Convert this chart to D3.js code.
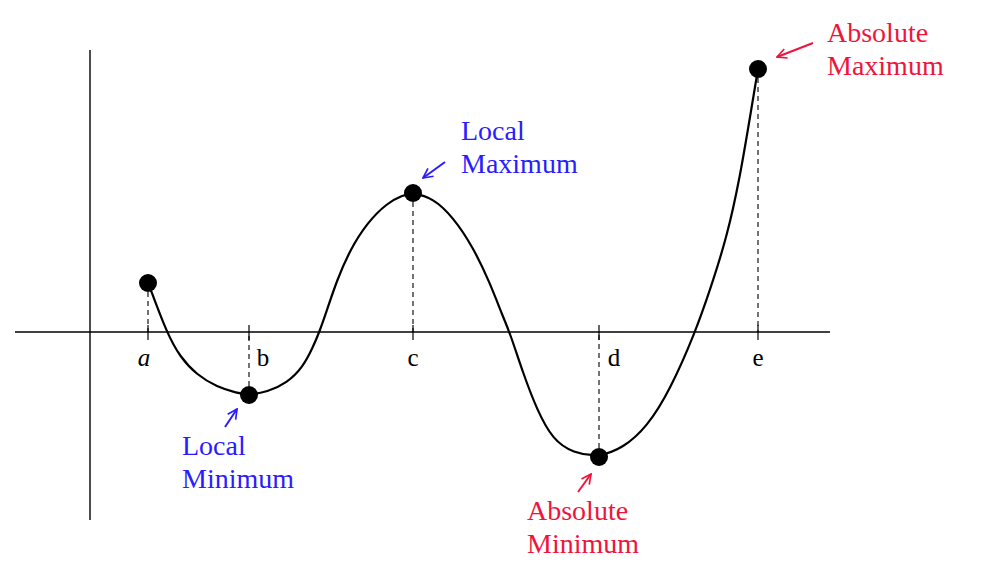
<!DOCTYPE html>
<html>
<head>
<meta charset="utf-8">
<script src="https://cdn.jsdelivr.net/npm/d3@7"></script>
<style>
  html, body { margin: 0; padding: 0; background: #fff; }
  svg { display: block; }
  text { font-family: "Liberation Serif", "Times New Roman", serif; }
</style>
</head>
<body>
<svg id="chart" width="984" height="574"></svg>
<script>
// ---- data ----
const curveX = [1.16, 1.24, 1.54, 1.80, 2.14, 2.54, 2.94, 3.18, 3.54, 3.94, 4.26, 4.46, 4.58, 4.74, 4.94, 5.20, 5.54, 5.94, 6.26, 6.46, 6.86, 7.26, 7.66, 8.00, 8.26, 8.40, 8.66, 8.94, 9.26, 9.66, 10.18, 10.66, 11.14, 11.60, 12.10, 12.40, 12.74, 13.00, 13.20, 13.36];
const curveY = [0.98, 0.78, -0.02, -0.50, -0.86, -1.10, -1.22, -1.26, -1.20, -1.02, -0.70, -0.30, -0.02, 0.44, 1.04, 1.64, 2.18, 2.58, 2.74, 2.78, 2.68, 2.30, 1.70, 0.98, 0.30, -0.02, -0.82, -1.56, -2.16, -2.42, -2.50, -2.32, -1.90, -1.16, -0.02, 0.84, 1.90, 3.10, 4.30, 5.26];
const pointNames = ["a", "b", "c", "d", "e"];
const pointX = [1.16, 3.18, 6.46, 10.18, 13.36];
const pointY = [0.98, -1.26, 2.78, -2.50, 5.26];
const labelX = [1.08, 3.46, 6.46, 10.48, 13.36];
const annotationLines = [["Local", "Maximum"], ["Local", "Minimum"], ["Absolute", "Minimum"], ["Absolute", "Maximum"]];
const annotationKind = ["local", "local", "absolute", "absolute"];

// ---- layout ----
const svg = d3.select("#chart");
const x = d3.scaleLinear().domain([-1.5, 14.8]).range([15, 830]);
const y = d3.scaleLinear().domain([-3.76, 5.64]).range([520, 50]);
const colors = { local: "#2a1cff", absolute: "#f0143c" };

// annotation placement (text origin in data units, arrow tail/head in data units)
const annPos = [
  { tx: 7.42, ty: 3.84, arrow: [[7.10, 3.40], [6.66, 3.08]] },
  { tx: 1.84, ty: -2.46, arrow: [[2.70, -1.90], [2.94, -1.54]] },
  { tx: 8.74, ty: -3.76, arrow: [[9.76, -3.20], [10.02, -2.84]] },
  { tx: 14.74, ty: 5.80, arrow: [[14.46, 5.78], [13.74, 5.50]] }
];

// axes
svg.append("line")
  .attr("x1", x(-1.5)).attr("x2", x(14.8))
  .attr("y1", y(0)).attr("y2", y(0))
  .attr("stroke", "#000").attr("stroke-width", 1.4);
svg.append("line")
  .attr("x1", x(0)).attr("x2", x(0))
  .attr("y1", y(5.64)).attr("y2", y(-3.76))
  .attr("stroke", "#000").attr("stroke-width", 1.4);

const pts = pointNames.map((n, i) => ({ name: n, x: pointX[i], y: pointY[i], lx: labelX[i] }));

// dashed drop lines
svg.selectAll(".drop").data(pts).enter().append("line")
  .attr("x1", d => x(d.x)).attr("x2", d => x(d.x))
  .attr("y1", d => y(d.y)).attr("y2", y(0))
  .attr("stroke", "#000").attr("stroke-width", 1.1)
  .attr("stroke-dasharray", "5,4");

// ticks
svg.selectAll(".tick").data(pts).enter().append("line")
  .attr("x1", d => x(d.x)).attr("x2", d => x(d.x))
  .attr("y1", y(0) - 7).attr("y2", y(0) + 8)
  .attr("stroke", "#000").attr("stroke-width", 1.2);

// tick labels
svg.selectAll(".lbl").data(pts).enter().append("text")
  .attr("x", d => x(d.lx)).attr("y", y(0) + 34)
  .attr("text-anchor", "middle")
  .attr("font-size", 25)
  .attr("font-style", d => d.name === "a" ? "italic" : "normal")
  .text(d => d.name);

// curve
const line = d3.line().x(d => x(d[0])).y(d => y(d[1])).curve(d3.curveBasis);
svg.append("path")
  .datum(curveX.map((v, i) => [v, curveY[i]]))
  .attr("d", line)
  .attr("fill", "none").attr("stroke", "#000").attr("stroke-width", 2.2);

// points
svg.selectAll(".pt").data(pts).enter().append("circle")
  .attr("cx", d => x(d.x)).attr("cy", d => y(d.y)).attr("r", 9)
  .attr("fill", "#000");

// arrowhead markers
const defs = svg.append("defs");
Object.entries(colors).forEach(([k, c]) => {
  defs.append("marker")
    .attr("id", "arrow-" + k)
    .attr("viewBox", "0 0 10 10").attr("refX", 9).attr("refY", 5)
    .attr("markerWidth", 6).attr("markerHeight", 6)
    .attr("orient", "auto")
    .append("path").attr("d", "M1,1 L9,5 L1,9").attr("fill", "none")
    .attr("stroke", c).attr("stroke-width", 1.4);
});

// annotations
annotationLines.forEach((lines, i) => {
  const p = annPos[i];
  const c = colors[annotationKind[i]];
  const t = svg.append("text")
    .attr("x", x(p.tx)).attr("y", y(p.ty))
    .attr("font-size", 28).attr("fill", c);
  lines.forEach((s, j) => {
    t.append("tspan").attr("x", x(p.tx)).attr("dy", j === 0 ? 0 : 33).text(s);
  });
  svg.append("line")
    .attr("x1", x(p.arrow[0][0])).attr("y1", y(p.arrow[0][1]))
    .attr("x2", x(p.arrow[1][0])).attr("y2", y(p.arrow[1][1]))
    .attr("stroke", c).attr("stroke-width", 2)
    .attr("marker-end", "url(#arrow-" + annotationKind[i] + ")");
});
</script>
</body>
</html>
